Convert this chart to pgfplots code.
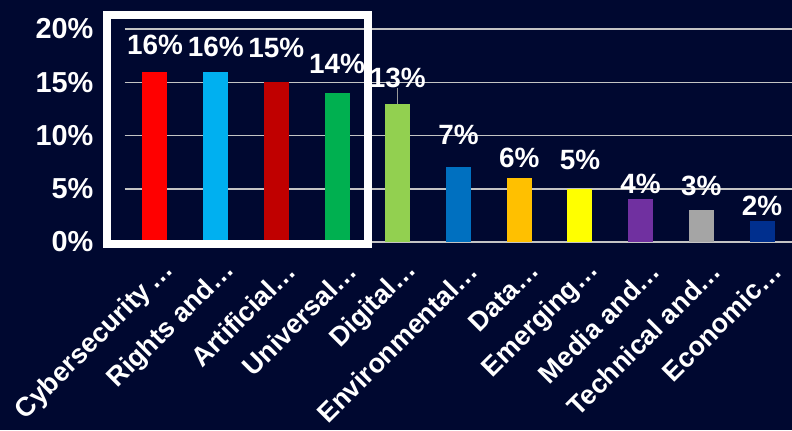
\documentclass[border=0pt]{standalone}
\usepackage{pgfplots}
\pgfplotsset{compat=1.18}
\usepackage{fontspec}
\setmainfont{Liberation Sans}
\definecolor{bg}{RGB}{0,8,48}
\definecolor{c1}{HTML}{FF0000}
\definecolor{c2}{HTML}{00B0F0}
\definecolor{c3}{HTML}{C00000}
\definecolor{c4}{HTML}{00B050}
\definecolor{c5}{HTML}{92D050}
\definecolor{c6}{HTML}{0070C0}
\definecolor{c7}{HTML}{FFC000}
\definecolor{c8}{HTML}{FFFF00}
\definecolor{c9}{HTML}{7030A0}
\definecolor{c10}{HTML}{A5A5A5}
\definecolor{c11}{HTML}{002F8E}
\definecolor{gridc}{HTML}{C4C4C4}
\begin{document}
\begin{tikzpicture}[x=1bp,y=1bp]
\fill[bg] (0,0) rectangle (792,430);
\path[use as bounding box] (0,0) rectangle (792,430);
\begin{axis}[
  at={(124.6bp,188bp)}, anchor=south west,
  scale only axis, width=667.8bp, height=213bp,
  xmin=-0.5, xmax=10.5, ymin=0, ymax=20,
  clip=false,
  axis line style={draw=none},
  major tick length=0pt,
  ytick={0,5,10,15,20},
  /pgf/number format/assume math mode=true,
  yticklabel={\pgfmathprintnumber{\tick}\%},
  ymajorgrids, grid style={line width=1.5bp, color=gridc},
  xtick={0,...,10},
  xticklabels={Cybersecurity\,\dots, Rights and\dots, Artificial\dots, Universal\dots, Digital\dots, Environmental\dots, Data\dots, Emerging\dots, Media and\dots, Technical and\dots, Economic\dots},
  yticklabel style={white, font=\bfseries\fontsize{29}{31}\selectfont, inner sep=0pt, anchor=east, xshift=-31bp},
  xticklabel style={white, font=\bfseries\fontsize{27}{29}\selectfont, xshift=17bp, yshift=-22bp, rotate=45, anchor=east},
  ybar, bar width=25bp, bar shift=0pt,
  nodes near coords={\pgfmathprintnumber{\pgfplotspointmeta}\%},
  nodes near coords style={white, font=\bfseries\fontsize{28}{30}\selectfont, anchor=south, inner sep=0pt},
]
\addplot[fill=c1, draw=none, nodes near coords style={yshift=17bp}] coordinates {(0,16)};
\addplot[fill=c2, draw=none, nodes near coords style={yshift=15bp}] coordinates {(1,16)};
\addplot[fill=c3, draw=none, nodes near coords style={yshift=24bp}] coordinates {(2,15)};
\addplot[fill=c4, draw=none, nodes near coords style={yshift=19bp}] coordinates {(3,14)};
\addplot[fill=c5, draw=none, nodes near coords style={yshift=16bp},
  error bars/.cd, y dir=plus, y explicit, error mark=none,
  error bar style={color=gray!80, line width=1.2bp}] coordinates {(4,13) +- (0,1.5)};
\addplot[fill=c6, draw=none, nodes near coords style={yshift=23bp}] coordinates {(5,7)};
\addplot[fill=c7, draw=none, nodes near coords style={yshift=10bp}] coordinates {(6,6)};
\addplot[fill=c8, draw=none, nodes near coords style={yshift=19bp}] coordinates {(7,5)};
\addplot[fill=c9, draw=none, nodes near coords style={yshift=5bp}] coordinates {(8,4)};
\addplot[fill=c10, draw=none, nodes near coords style={yshift=14bp}] coordinates {(9,3)};
\addplot[fill=c11, draw=none, nodes near coords style={yshift=5bp}] coordinates {(10,2)};
\draw[white, line width=8bp] (axis cs:-0.79,-0.19) rectangle (axis cs:3.51,21.36);
\end{axis}
\end{tikzpicture}
\end{document}
